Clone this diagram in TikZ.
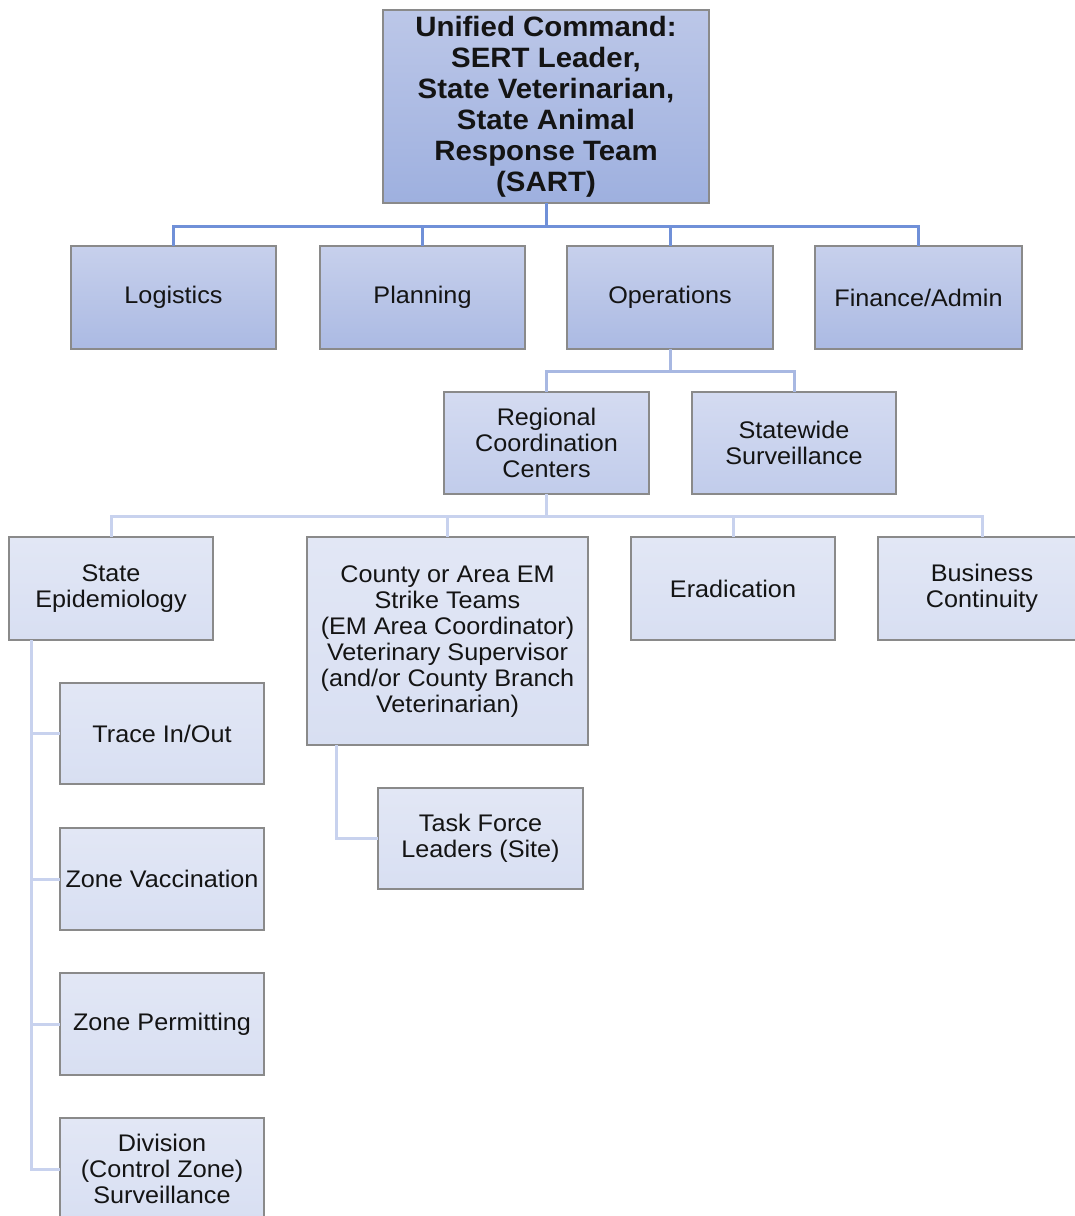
\documentclass[tikz,border=0pt]{standalone}
\usepackage{fontspec}
\setmainfont{Liberation Sans}[FakeStretch=1.05]
\definecolor{boxline}{HTML}{8A8A8A}
\definecolor{lnkA}{HTML}{7090D8}
\definecolor{lnkB}{HTML}{A8B8E2}
\definecolor{lnkC}{HTML}{C8D2EE}
\tikzset{
  unit/.style={draw=boxline, line width=1.4pt, anchor=north west, align=center,
    inner sep=0pt, outer sep=0pt, text=black!92, font=\fontsize{24}{26}\selectfont},
  chief/.style={unit, top color=HTML1, bottom color=HTML2, font=\fontsize{28}{31}\selectfont\bfseries},
  section/.style={unit, top color=HTML3, bottom color=HTML4},
  branch/.style={unit, top color=HTML5, bottom color=HTML6},
  team/.style={unit, top color=HTML7, bottom color=HTML8},
  lnk1/.style={draw=lnkA, line width=3pt},
  lnk2/.style={draw=lnkB, line width=3pt},
  lnk3/.style={draw=lnkC, line width=3pt}
}
\definecolor{HTML1}{HTML}{BCC7E8}
\definecolor{HTML2}{HTML}{9EB0DF}
\definecolor{HTML3}{HTML}{C7D0EC}
\definecolor{HTML4}{HTML}{ABBAE3}
\definecolor{HTML5}{HTML}{D4DBF1}
\definecolor{HTML6}{HTML}{C1CCEB}
\definecolor{HTML7}{HTML}{E2E7F5}
\definecolor{HTML8}{HTML}{D8DFF2}
\begin{document}
\begin{tikzpicture}[x=1pt,y=-1pt]
\useasboundingbox (0,0) rectangle (1075,1216);
\clip (0,0) rectangle (1075,1216);

% command and general staff
\node[chief, minimum width=326pt, minimum height=193pt] (cmd) at (383,10)
  {Unified Command:\\SERT Leader,\\State Veterinarian,\\State Animal\\Response Team\\(SART)};
\node[section, minimum width=205pt, minimum height=103pt] (logi) at (71,246) {Logistics};
\node[section, minimum width=205pt, minimum height=103pt] (plan) at (320,246) {Planning};
\node[section, minimum width=206pt, minimum height=103pt] (oper) at (567,246) {Operations};
\node[section, minimum width=207pt, minimum height=103pt] (fin) at (815,246) {Finance/Admin};

% operations
\node[branch, minimum width=205pt, minimum height=102pt] (rcc) at (444,392) {Regional\\Coordination\\Centers};
\node[branch, minimum width=204pt, minimum height=102pt] (surv) at (692,392) {Statewide\\Surveillance};

% field units
\node[team, minimum width=204pt, minimum height=103pt] (epi) at (9,537) {State\\Epidemiology};
\node[team, minimum width=281pt, minimum height=208pt, text depth=4pt] (cnty) at (307,537)
  {County or Area EM\\Strike Teams\\(EM Area Coordinator)\\Veterinary Supervisor\\(and/or County Branch\\Veterinarian)};
\node[team, minimum width=204pt, minimum height=103pt] (erad) at (631,537) {Eradication};
\node[team, minimum width=208pt, minimum height=103pt] (bus) at (878,537) {Business\\Continuity};

\node[team, minimum width=204pt, minimum height=101pt] (trace) at (60,683) {Trace In/Out};
\node[team, minimum width=204pt, minimum height=102pt] (vacc) at (60,828) {Zone Vaccination};
\node[team, minimum width=204pt, minimum height=102pt] (perm) at (60,973) {Zone Permitting};
\node[team, minimum width=204pt, minimum height=102pt] (divi) at (60,1118) {Division\\(Control Zone)\\Surveillance};
\node[team, minimum width=205pt, minimum height=101pt] (task) at (378,788) {Task Force\\Leaders (Site)};

% connectors
\foreach \n in {logi,plan,oper,fin}
  \draw[lnk1] (cmd.south) -- ++(0,23) -| (\n.north);
\foreach \n in {rcc,surv}
  \draw[lnk2] (oper.south) -- ++(0,22) -| (\n.north);
\foreach \n in {epi,cnty,erad,bus}
  \draw[lnk3] (rcc.south) -- ++(0,22) -| (\n.north);
\foreach \n in {trace,vacc,perm,divi}
  \draw[lnk3] ([xshift=22pt]epi.south west) |- (\n.west);
\draw[lnk3] ([xshift=29pt]cnty.south west) |- (task.west);
\end{tikzpicture}
\end{document}
